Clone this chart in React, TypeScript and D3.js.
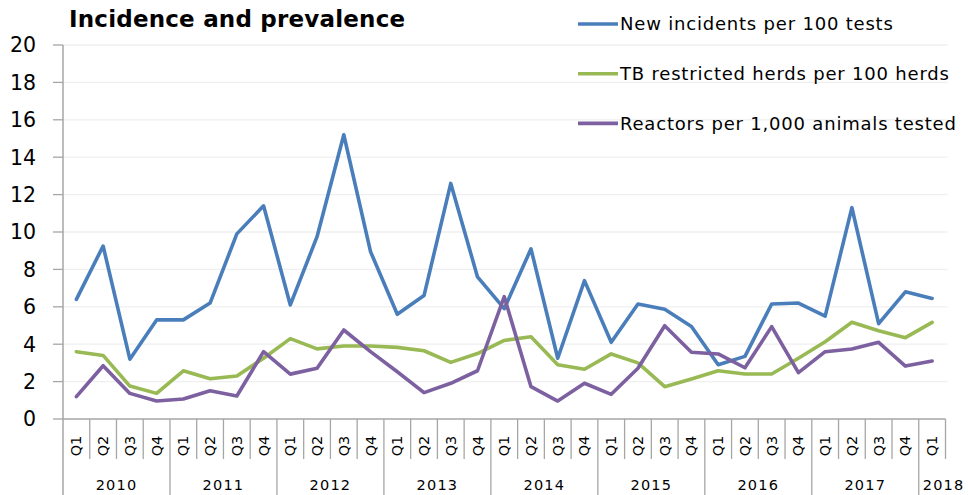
import React from "react";
import * as d3 from "d3";

const years = ["2010", "2011", "2012", "2013", "2014", "2015", "2016", "2017", "2018"];
const quarters = ["Q1", "Q2", "Q3", "Q4"];
const categories: { year: string; q: string }[] = [];
years.forEach((y) => {
  const qs = y === "2018" ? ["Q1"] : quarters;
  qs.forEach((q) => categories.push({ year: y, q }));
});

const newIncidents = [6.4, 9.25, 3.2, 5.3, 5.3, 6.2, 9.9, 11.4, 6.1, 9.75, 15.2, 8.95, 5.6, 6.6, 12.6, 7.6, 5.9, 9.1, 3.25, 7.4, 4.1, 6.15, 5.87, 4.95, 2.9, 3.35, 6.15, 6.2, 5.5, 11.3, 5.1, 6.8, 6.45];
const restrictedHerds = [3.6, 3.4, 1.76, 1.37, 2.58, 2.15, 2.3, 3.25, 4.3, 3.75, 3.9, 3.9, 3.83, 3.65, 3.03, 3.5, 4.2, 4.4, 2.9, 2.66, 3.48, 3.0, 1.73, 2.14, 2.58, 2.41, 2.41, 3.25, 4.13, 5.17, 4.72, 4.35, 5.17];
const reactors = [1.2, 2.85, 1.37, 0.96, 1.07, 1.51, 1.23, 3.6, 2.4, 2.71, 4.76, 3.6, 2.53, 1.41, 1.91, 2.58, 6.54, 1.73, 0.96, 1.91, 1.32, 2.71, 4.99, 3.57, 3.48, 2.74, 4.94, 2.48, 3.6, 3.74, 4.1, 2.83, 3.1];
const yTicks = [0, 2, 4, 6, 8, 10, 12, 14, 16, 18, 20];

const series = [
  { name: "New incidents per 100 tests", values: newIncidents, color: "#4A7EBB" },
  { name: "TB restricted herds per 100 herds", values: restrictedHerds, color: "#98B954" },
  { name: "Reactors per 1,000 animals tested", values: reactors, color: "#7D60A0" },
];

const W = 968;
const H = 495;
const FONT = "'DejaVu Sans', Verdana, sans-serif";
const AXIS = "#A6A6A6";

export default function App() {
  const x = d3.scaleBand<number>().domain(d3.range(categories.length)).range([63, 945.5]).padding(0);
  const y = d3.scaleLinear().domain([0, 20]).range([419, 45]);
  const line = d3
    .line<number>()
    .x((_, i) => (x(i) as number) + x.bandwidth() / 2)
    .y((d) => y(d));

  const yearGroups = years.map((yr) => {
    const idx = categories.map((c, i) => (c.year === yr ? i : -1)).filter((i) => i >= 0);
    const x0 = x(idx[0]) as number;
    const x1 = (x(idx[idx.length - 1]) as number) + x.bandwidth();
    return { yr, x0, x1 };
  });

  const x0 = 63;
  const xEnd = 945.5;

  return (
    <svg width={W} height={H} style={{ position: "absolute", left: 0, top: 0, background: "#fff" }}>
      <rect width={W} height={H} fill="#fff" />
      {/* gridlines */}
      {yTicks.filter((t) => t > 0).map((t) => (
        <line key={"g" + t} x1={x0} x2={xEnd + 2} y1={y(t)} y2={y(t)} stroke="#EFEFEF" strokeWidth={1.3} />
      ))}
      {/* y ticks */}
      {yTicks.map((t) => (
        <g key={"t" + t}>
          <line x1={53} x2={x0} y1={y(t)} y2={y(t)} stroke={AXIS} strokeWidth={1.3} />
          <text x={36} y={y(t)} dy="0.36em" textAnchor="end" fontFamily={FONT} fontSize={20.5} fill="#000">
            {t}
          </text>
        </g>
      ))}
      {/* axes */}
      <line x1={x0} x2={x0} y1={y(20)} y2={H} stroke={AXIS} strokeWidth={1.5} />
      <line x1={x0} x2={xEnd} y1={y(0)} y2={y(0)} stroke={AXIS} strokeWidth={1.5} />
      {/* category separators */}
      {categories.map((c, i) => {
        const bx = (x(i) as number) + x.bandwidth();
        const isYearEnd = i < categories.length - 1 && categories[i + 1].year !== c.year;
        return (
          <line key={"s" + i} x1={bx} x2={bx} y1={y(0)} y2={isYearEnd ? H : 459} stroke={AXIS} strokeWidth={1.3} />
        );
      })}
      {/* quarter labels */}
      {categories.map((c, i) => {
        const cx = (x(i) as number) + x.bandwidth() / 2;
        return (
          <text
            key={"q" + i}
            transform={`translate(${cx},446) rotate(-90)`}
            textAnchor="middle"
            dominantBaseline="central"
            fontFamily={FONT}
            fontSize={14.5}
            fill="#000"
          >
            {c.q}
          </text>
        );
      })}
      {/* year labels */}
      {yearGroups.map((g) => (
        <text
          key={g.yr}
          x={g.yr === "2018" ? g.x0 + 4 : (g.x0 + g.x1) / 2}
          y={490}
          textAnchor={g.yr === "2018" ? "start" : "middle"}
          fontFamily={FONT}
          fontSize={14.5}
          letterSpacing={1.2}
          fill="#000"
        >
          {g.yr}
        </text>
      ))}
      {/* lines */}
      {series.map((s) => (
        <path key={s.name} d={line(s.values) as string} fill="none" stroke={s.color} strokeWidth={3.6} strokeLinejoin="round" strokeLinecap="round" />
      ))}
      {/* title */}
      <text x={69} y={27} fontFamily={FONT} fontWeight="bold" fontSize={23} letterSpacing={0.2} fill="#000">
        Incidence and prevalence
      </text>
      {/* legend */}
      {series.map((s, i) => {
        const ly = 24 + i * 49.7;
        return (
          <g key={"l" + i}>
            <line x1={578} x2={618} y1={ly} y2={ly} stroke={s.color} strokeWidth={3.6} />
            <text x={620} y={ly} dy="0.36em" fontFamily={FONT} fontSize={18} letterSpacing={0.8} fill="#000">
              {s.name}
            </text>
          </g>
        );
      })}
    </svg>
  );
}
